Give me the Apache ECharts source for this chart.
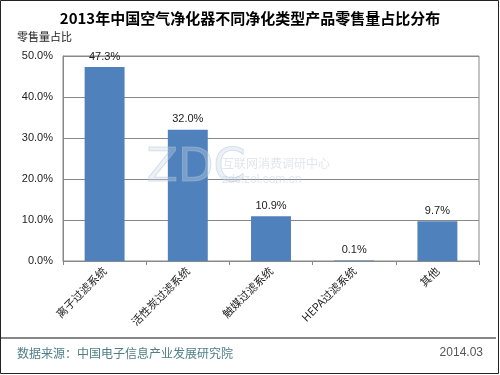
<!DOCTYPE html>
<html><head><meta charset="utf-8">
<script src="https://cdn.jsdelivr.net/npm/echarts@6/dist/echarts.min.js"></script>
<style>html,body{margin:0;padding:0;background:#fff}#c{width:500px;height:375px}</style>
</head><body><div id="c"></div>
<script>
var categories = ['离子过滤系统', '活性炭过滤系统', '触媒过滤系统', 'HEPA过滤系统', '其他'];
var values = [47.3, 32.0, 10.9, 0.1, 9.7];
var title = '2013年中国空气净化器不同净化类型产品零售量占比分布';
var yName = '零售量占比';
var source = '数据来源：中国电子信息产业发展研究院';
var dateText = '2014.03';

var chart = echarts.init(document.getElementById('c'), null, {renderer: 'canvas'});
var font = '"Noto Sans CJK SC", "Liberation Sans", sans-serif';
chart.setOption({
  animation: false,
  backgroundColor: '#fff',
  title: {text: title, left: 'center', top: 6,
    textStyle: {fontSize: 15, fontWeight: 'bold', color: '#000', fontFamily: font}},
  grid: {left: 63, right: 21, top: 56, bottom: 114, show: true, borderColor: '#888', borderWidth: 1},
  graphic: [
    {type: 'rect', shape: {x: 0.5, y: 0.5, width: 498, height: 373}, style: {fill: 'none', stroke: '#222', lineWidth: 1}, z: 100},
    {type: 'line', shape: {x1: 0, y1: 338, x2: 496, y2: 338}, style: {stroke: '#111', lineWidth: 1.2}},
    {type: 'text', left: 17, top: 31, style: {text: yName, fontSize: 11, fill: '#222', fontFamily: font}},
    {type: 'text', left: 17, top: 347, style: {text: source, fontSize: 12, fill: '#4e7f86', fontFamily: font}},
    {type: 'text', right: 17, top: 347, style: {text: dateText, fontSize: 12, fill: '#555', fontFamily: '"Liberation Sans", sans-serif'}},
    {type: 'text', left: 146, top: 146, style: {text: 'ZDC', fontSize: 46, fontFamily: '"DejaVu Sans", sans-serif', fill: 'rgba(200,215,230,0.35)', stroke: 'rgba(170,190,210,0.45)', lineWidth: 1}, z: 50},
    {type: 'text', left: 222, top: 157, style: {text: '互联网消费调研中心', fontSize: 12, fontFamily: font, fill: 'rgba(190,200,210,0.45)'}, z: 50},
    {type: 'text', left: 222, top: 174, style: {text: 'zdc.zol.com.cn', fontSize: 12, fontFamily: '"Liberation Sans", sans-serif', fill: 'rgba(190,200,210,0.45)'}, z: 50}
  ],
  xAxis: {
    type: 'category', data: categories,
    axisLine: {lineStyle: {color: '#888'}},
    axisTick: {show: true, alignWithLabel: false, length: 4, lineStyle: {color: '#888'}},
    axisLabel: {rotate: 45, fontSize: 11, color: '#222', fontFamily: font, margin: 8, interval: 0}
  },
  yAxis: {
    type: 'value', min: 0, max: 50, interval: 10,
    axisLine: {show: true, lineStyle: {color: '#888'}},
    axisTick: {show: false},
    splitLine: {lineStyle: {color: '#888'}},
    axisLabel: {formatter: function (v) { return v.toFixed(1) + '%'; }, fontSize: 11, color: '#222', fontFamily: '"Liberation Sans", sans-serif', margin: 10}
  },
  series: [{
    type: 'bar', data: values, barWidth: '48%',
    itemStyle: {color: '#4f81bd'},
    label: {show: true, position: 'top', fontSize: 11, color: '#222', fontFamily: '"Liberation Sans", sans-serif',
      formatter: function (p) { return p.value.toFixed(1) + '%'; }}
  }]
});
</script></body></html>
